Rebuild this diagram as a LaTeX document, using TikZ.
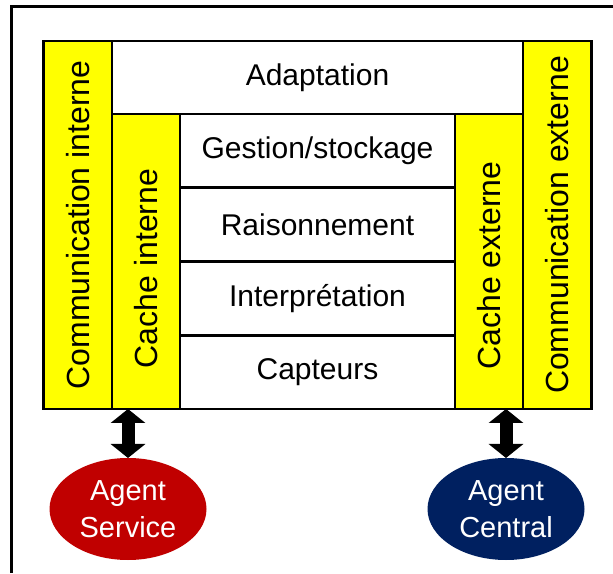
\documentclass[tikz,border=0pt]{standalone}
\usepackage{fontspec}
\setmainfont{Liberation Sans}
\usepackage{tikz}
\usetikzlibrary{shapes.geometric,arrows.meta}
\usetikzlibrary{positioning}

\definecolor{jaune}{HTML}{FFFF00}
\definecolor{rougeagent}{HTML}{C00000}
\definecolor{bleuagent}{HTML}{002060}

\begin{document}
\begin{tikzpicture}[x=1pt,y=1pt]
		\tikzset{
				every node/.style={font=\fontsize{30}{36}\selectfont, inner sep=0pt, outer sep=0pt},
				couche/.style={draw, fill=white, line width=2.8pt, minimum width=275, minimum height=73.75},
				cache/.style={draw, fill=jaune, line width=2.8pt, minimum width=68.5, font=\fontsize{32}{36}\selectfont},
				agent/.style={ellipse, text=white, minimum width=157, minimum height=102, align=center, font=\fontsize{29}{37}\selectfont},
				fleche/.style={line width=13pt, {Triangle[width=34pt,length=14pt]}-{Triangle[width=34pt,length=14pt]}}
			}
		\useasboundingbox (0,0) rectangle (613,573);
		\draw [line width=3pt] (11,0) -- (11,566) -- (613,566);
		
		\node [couche, minimum width=411, minimum height=73] (adapt) at (317.5,495.5) {Adaptation};
		\node [couche, below=0pt of adapt] (gestion) {Gestion/stockage};
		\node [couche, below=0pt of gestion] (raison) {Raisonnement};
		\node [couche, below=0pt of raison] (interp) {Interpr\'etation};
		\node [couche, below=0pt of interp] (capteurs) {Capteurs};
		
		\node [cache, minimum height=295, anchor=north east] (cacheint) at (gestion.north west) {\rotatebox{90}{Cache interne\hspace{14pt}}};
		\node [cache, minimum height=295, anchor=north west] (cacheext) at (gestion.north east) {\rotatebox{90}{Cache externe\hspace{8pt}}};
		\node [cache, minimum height=368, anchor=north east] (comint) at (adapt.north west) {\rotatebox{90}{Communication interne}};
		\node [cache, minimum height=368, anchor=north west] (comext) at (adapt.north east) {\rotatebox{90}{Communication externe}};
		
		\node [agent, fill=rougeagent] (service) at (128,64) {Agent\\Service};
		\node [agent, fill=bleuagent] (central) at (506,64) {Agent\\Central};
		
		\draw [fleche] (service.north) -- (service.north |- comint.south);
		\draw [fleche] (central.north) -- (central.north |- cacheext.south);
	\end{tikzpicture}
\end{document}
